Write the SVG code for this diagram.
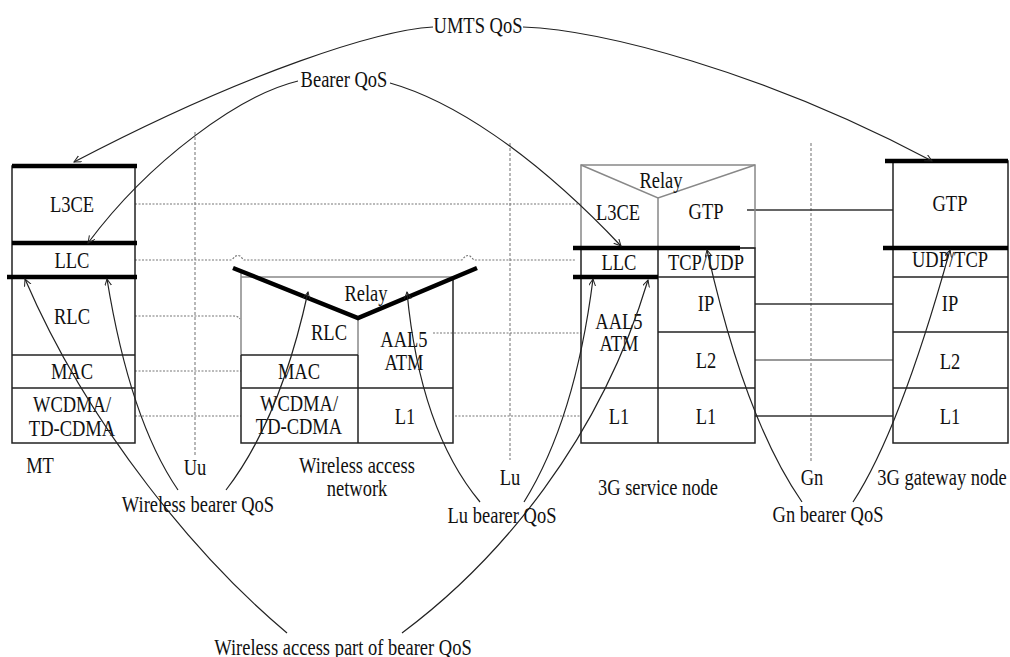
<svg xmlns="http://www.w3.org/2000/svg" width="1010" height="657" viewBox="0 0 1010 657">
<style>
text { font-family: "Liberation Serif", "Times New Roman", serif; font-size: 18.5px; fill: #111; text-anchor: middle; dominant-baseline: central; transform-box: fill-box; transform-origin: center; transform: scaleY(1.2); }
.halo { stroke: #fff; stroke-width: 6px; paint-order: stroke; stroke-linejoin: round; }
.box { fill: none; stroke: #222; stroke-width: 1.5; }
.ln { stroke: #222; stroke-width: 1.5; fill: none; }
.gry { stroke: #888; stroke-width: 1.5; fill: none; }
.bar { stroke: #000; stroke-width: 4.5; fill: none; }
.dot { stroke: #777; stroke-width: 1.2; stroke-dasharray: 2 1.5; fill: none; }
.vdash { stroke: #888; stroke-width: 1.2; stroke-dasharray: 3 2; fill: none; }
.arc { stroke: #222; stroke-width: 1.2; fill: none; marker-end: url(#ah); }
.arcn { stroke: #222; stroke-width: 1.2; fill: none; }
.solid { stroke: #333; stroke-width: 1.5; fill: none; }
</style>
<defs>
<marker id="ah" markerWidth="10" markerHeight="10" refX="7" refY="3.5" orient="auto" markerUnits="userSpaceOnUse">
<path d="M0,0 L7,3.5 L0,7" fill="none" stroke="#222" stroke-width="1"/>
</marker>
</defs>
<rect width="1010" height="657" fill="#fff"/>

<g id="interfaces">
<line class="vdash" x1="195" y1="132" x2="195" y2="455"/>
<line class="vdash" x1="510" y1="143" x2="510" y2="460"/>
<line class="vdash" x1="811" y1="143" x2="811" y2="463"/>
</g>

<g id="peer-lines">
<line class="dot" x1="135" y1="204" x2="581" y2="204"/>
<path class="dot" d="M135,260 L232,260 Q236,254 240,256 L244,260 L462,260 Q466,254 470,256 L474,260 L575,260"/>
<path class="dot" d="M135,316 L234,316 Q238,316 240,319"/>
<line class="dot" x1="135" y1="371" x2="241" y2="371"/>
<line class="dot" x1="135" y1="416" x2="241" y2="416"/>
<line class="dot" x1="433" y1="333" x2="581" y2="333"/>
<line class="dot" x1="455" y1="416" x2="581" y2="416"/>
<line class="solid" x1="747" y1="210" x2="893" y2="210"/>
<line class="solid" x1="755" y1="304" x2="893" y2="304"/>
<line stroke="#999" stroke-width="2" x1="755" y1="360" x2="893" y2="360"/>
<line class="solid" x1="755" y1="416" x2="893" y2="416"/>
</g>

<g id="mt">
<rect class="box" x="12" y="166" width="123" height="277"/>
<line class="ln" x1="12" y1="355" x2="135" y2="355"/>
<line class="ln" x1="12" y1="388" x2="135" y2="388"/>
<line class="bar" x1="12" y1="166" x2="137" y2="166"/>
<line class="bar" x1="12" y1="243" x2="137" y2="243"/>
<line class="bar" x1="7" y1="277" x2="137" y2="277"/>
<text x="72" y="204">L3CE</text>
<text x="72" y="260">LLC</text>
<text x="72" y="316">RLC</text>
<text x="72" y="371">MAC</text>
<text x="72" y="404">WCDMA/</text>
<text x="72" y="428">TD-CDMA</text>
</g>

<g id="wan">
<line class="gry" x1="241" y1="272" x2="241" y2="355"/>
<line class="gry" x1="241" y1="277" x2="453" y2="277"/>
<line class="gry" x1="358" y1="317" x2="358" y2="355"/>
<path class="box" d="M241,355 L241,443 L453,443 L453,277"/>
<line class="ln" x1="241" y1="355" x2="358" y2="355"/>
<line class="ln" x1="241" y1="388" x2="453" y2="388"/>
<line class="ln" x1="358" y1="355" x2="358" y2="443"/>
<path class="bar" d="M233,268 L358,318 L477,268"/>
<text x="366" y="294">Relay</text>
<text x="329" y="332">RLC</text>
<text x="404" y="339">AAL5</text>
<text x="404" y="362">ATM</text>
<text x="299" y="371">MAC</text>
<text x="299" y="403">WCDMA/</text>
<text x="299" y="426">TD-CDMA</text>
<text x="405" y="416">L1</text>
</g>

<g id="sgsn">
<rect class="gry" x="581" y="165" width="174" height="83"/>
<path class="gry" d="M581,165 L658,198 L755,165 M658,198 L658,248"/>
<rect class="box" x="581" y="248" width="174" height="195"/>
<line class="ln" x1="658" y1="248" x2="658" y2="443"/>
<line class="ln" x1="658" y1="277" x2="755" y2="277"/>
<line class="ln" x1="658" y1="332" x2="755" y2="332"/>
<line class="ln" x1="581" y1="388" x2="755" y2="388"/>
<line class="bar" x1="573" y1="248" x2="740" y2="248"/>
<line class="bar" x1="573" y1="277" x2="658" y2="277"/>
<text x="661" y="181">Relay</text>
<text x="618" y="212">L3CE</text>
<text x="706" y="211">GTP</text>
<text x="619" y="262">LLC</text>
<text x="706" y="262">TCP/UDP</text>
<text x="706" y="303">IP</text>
<text x="619" y="321">AAL5</text>
<text x="619" y="343">ATM</text>
<text x="706" y="360">L2</text>
<text x="619" y="416">L1</text>
<text x="706" y="416">L1</text>
</g>

<g id="ggsn">
<rect class="box" x="893" y="161" width="115" height="282"/>
<line class="ln" x1="893" y1="277" x2="1008" y2="277"/>
<line class="ln" x1="893" y1="332" x2="1008" y2="332"/>
<line class="ln" x1="893" y1="388" x2="1008" y2="388"/>
<line class="bar" x1="885" y1="161" x2="1008" y2="161"/>
<line class="bar" x1="883" y1="248" x2="1008" y2="248"/>
<text x="950" y="203">GTP</text>
<text x="950" y="259">UDP/TCP</text>
<text x="950" y="303">IP</text>
<text x="950" y="361">L2</text>
<text x="950" y="416">L1</text>
</g>

<g id="connectors">
<path class="arc" d="M433,27 C380,30 250,70 74,162"/>
<path class="arc" d="M523,27 C600,30 760,70 932,161"/>
<path class="arc" d="M298,81 C240,95 150,160 88,243"/>
<path class="arc" d="M390,83 C450,100 530,150 621,246"/>
<path class="arc" d="M178,490 Q130,420 107,279"/>
<path class="arc" d="M226,490 Q280,420 308,292"/>
<path class="arc" d="M480,502 Q420,430 407,292"/>
<path class="arc" d="M524,502 Q575,420 593,279"/>
<path class="arc" d="M287,633 C200,560 90,430 25,279"/>
<path class="arc" d="M402,633 C500,560 600,440 648,280"/>
<path class="arc" d="M802,502 Q745,420 707,250"/>
<path class="arc" d="M853,502 Q900,430 950,250"/>
</g>

<g id="labels">
<text x="478" y="25">UMTS QoS</text>
<text x="344" y="79">Bearer QoS</text>
<text x="40" y="465">MT</text>
<text x="195" y="467">Uu</text>
<text x="357" y="465">Wireless access</text>
<text x="357" y="488">network</text>
<text x="510" y="477">Lu</text>
<text x="658" y="487">3G service node</text>
<text x="812" y="477">Gn</text>
<text class="halo" x="942" y="477">3G gateway node</text>
<text x="198" y="504">Wireless bearer QoS</text>
<text x="502" y="515">Lu bearer QoS</text>
<text class="halo" x="828" y="514">Gn bearer QoS</text>
<text x="343" y="647">Wireless access part of bearer QoS</text>
</g>
</svg>
